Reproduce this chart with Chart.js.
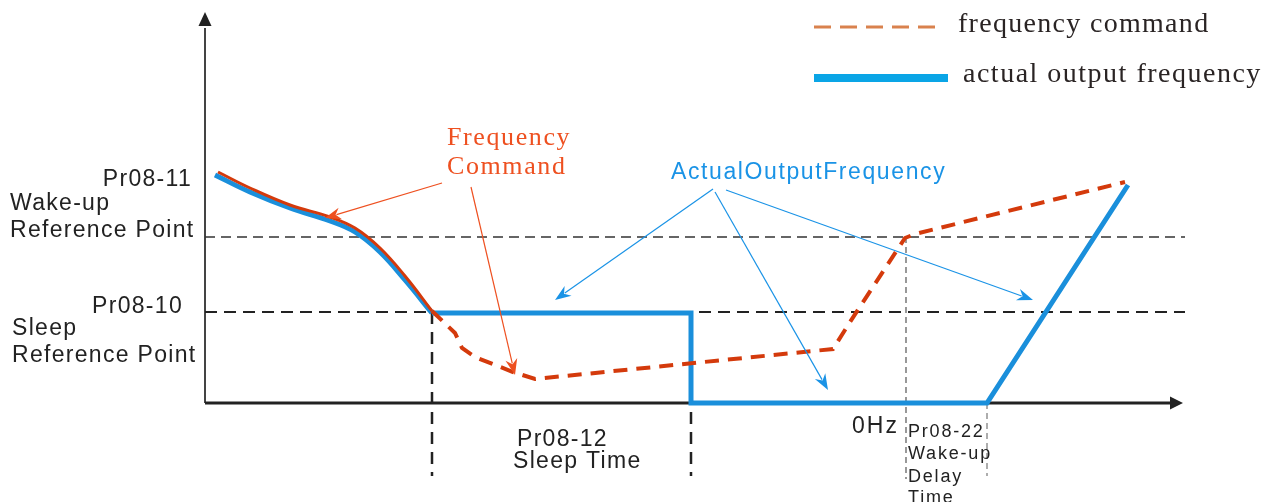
<!DOCTYPE html>
<html lang="en">
<head>
  <meta charset="UTF-8">
  <title>Sleep / Wake-up timing</title>
  <script src="https://cdn.jsdelivr.net/npm/chart.js"></script>
  <style>
    body { margin: 0; background: #fff; }
    .wrap { position: relative; width: 1279px; height: 502px; }
  </style>
</head>
<body>
<div class="wrap"><canvas id="sleepChart"></canvas></div>
<script>
// time (x) and frequency (y) values, arbitrary units
// frequency command: smooth decel curve, then the dashed part after sleep
const cmdCurveTime = [1.3, 4.5, 8.5, 12.5, 15, 17.5, 20, 22.7];
const cmdCurveFreq = [23.1, 21.5, 19.8, 18.6, 17.5, 15.5, 12.7, 9.2];
const cmdTime = [22.7, 25, 25.7, 27, 30.8, 33, 62.8, 64.5, 70, 71, 92];
const cmdFreq = [9.2, 7, 5.5, 4.6, 3.1, 2.4, 5.4, 8.1, 16.5, 16.9, 22.1];

// actual output: same curve, then sleep step and wake-up ramp
const outCurveTime = [1, 4.5, 8.5, 12.5, 15, 17.5, 20, 22.7];
const outCurveFreq = [22.8, 21.1, 19.5, 18.2, 17.1, 15.1, 12.3, 9.0];
const outTime = [22.7, 48.6, 48.6, 78.2, 92.3];
const outFreq = [9.0, 9.0, 0, 0, 21.8];

const wakeLevel = 16.6;
const sleepLevel = 9.1;
const sleepStart = 22.7;
const sleepEnd = 48.6;
const wakeDelayStart = 70.1;
const wakeDelayEnd = 78.2;
const timeEnd = 98;
const freqTop = 38.5;
const belowAxis = -7.3;

const pts = (xs, ys) => xs.map((x, i) => ({ x, y: ys[i] }));

const RED = '#d43a0c';
const BLUE = '#1a8fdb';
const INK = '#222';

// text labels: [text, x, y, font, color, align, spacing]
const sans = '23px "Liberation Sans", Arial, sans-serif';
const sansSmall = '18px "Liberation Sans", Arial, sans-serif';
const serif = '"Liberation Serif", "Times New Roman", serif';
const labels = [
  ['Pr08-11', -1.3, 21.7, sans, INK, 'right', 1.3],
  ['Wake-up', -19.5, 19.3, sans, INK, 'left', 1.3],
  ['Reference Point', -19.5, 16.6, sans, INK, 'left', 1.3],
  ['Pr08-10', -2.2, 9.0, sans, INK, 'right', 1.3],
  ['Sleep', -19.3, 6.8, sans, INK, 'left', 1.3],
  ['Reference Point', -19.3, 4.1, sans, INK, 'left', 1.3],
  ['Pr08-12', 31.2, -4.3, sans, INK, 'left', 1.3],
  ['Sleep Time', 30.8, -6.5, sans, INK, 'left', 1.3],
  ['0Hz', 64.7, -3.0, sans, INK, 'left', 2],
  ['Pr08-22', 70.3, -3.4, sansSmall, INK, 'left', 1.8],
  ['Wake-up', 70.3, -5.6, sansSmall, INK, 'left', 1.8],
  ['Delay', 70.3, -7.9, sansSmall, INK, 'left', 1.8],
  ['Time', 70.3, -10.0, sansSmall, INK, 'left', 1.8],
  ['Frequency', 24.2, 25.8, '26px ' + serif, '#ee5020', 'left', 1.6],
  ['Command', 24.2, 22.9, '26px ' + serif, '#ee5020', 'left', 1.6],
  ['ActualOutputFrequency', 46.6, 22.4, sans, '#1a93e6', 'left', 1.6],
  ['frequency command', 75.3, 37.1, '28px ' + serif, '#2a2424', 'left', 1.3],
  ['actual output frequency', 75.8, 32.1, '28px ' + serif, '#2a2424', 'left', 1.5]
];

// callout arrows: [fromX, fromY, tipX, tipY, color]
const callouts = [
  [23.7, 22.0, 12.0, 18.5, '#ee5020'],
  [26.6, 21.6, 31.0, 2.8, '#ee5020'],
  [50.8, 21.4, 35.0, 10.3, '#1a93e6'],
  [51.0, 21.1, 62.3, 1.3, '#1a93e6'],
  [52.1, 21.3, 82.8, 10.3, '#1a93e6']
];

const annotate = {
  id: 'annotate',
  beforeDatasetsDraw(chart) {
    const { ctx, scales: { x, y } } = chart;
    ctx.save();
    // axes
    ctx.strokeStyle = '#444';
    ctx.lineWidth = 2;
    ctx.beginPath();
    ctx.moveTo(x.getPixelForValue(0), y.getPixelForValue(0));
    ctx.lineTo(x.getPixelForValue(0), y.getPixelForValue(freqTop - 1));
    ctx.stroke();
    ctx.strokeStyle = INK;
    ctx.lineWidth = 3;
    ctx.beginPath();
    ctx.moveTo(x.getPixelForValue(0), y.getPixelForValue(0));
    ctx.lineTo(x.getPixelForValue(timeEnd - 1.5), y.getPixelForValue(0));
    ctx.stroke();
    ctx.fillStyle = INK;
    const ax = x.getPixelForValue(0), ay = y.getPixelForValue(freqTop);
    ctx.beginPath();
    ctx.moveTo(ax, ay - 6);
    ctx.lineTo(ax - 6.5, ay + 8);
    ctx.lineTo(ax + 6.5, ay + 8);
    ctx.closePath();
    ctx.fill();
    const bx = x.getPixelForValue(timeEnd - 1.5), by = y.getPixelForValue(0);
    ctx.beginPath();
    ctx.moveTo(bx + 13, by);
    ctx.lineTo(bx, by - 6.5);
    ctx.lineTo(bx, by + 6.5);
    ctx.closePath();
    ctx.fill();
    ctx.restore();
  },
  afterDatasetsDraw(chart) {
    const { ctx, scales: { x, y } } = chart;
    ctx.save();
    callouts.forEach(([fx, fy, tx, ty, color]) => {
      const x0 = x.getPixelForValue(fx), y0 = y.getPixelForValue(fy);
      const x1 = x.getPixelForValue(tx), y1 = y.getPixelForValue(ty);
      const a = Math.atan2(y1 - y0, x1 - x0);
      ctx.strokeStyle = color;
      ctx.fillStyle = color;
      ctx.lineWidth = 1.2;
      ctx.beginPath();
      ctx.moveTo(x0, y0);
      ctx.lineTo(x1 - 12 * Math.cos(a), y1 - 12 * Math.sin(a));
      ctx.stroke();
      ctx.beginPath();
      ctx.moveTo(x1, y1);
      ctx.lineTo(x1 - 16 * Math.cos(a) + 6 * Math.sin(a), y1 - 16 * Math.sin(a) - 6 * Math.cos(a));
      ctx.lineTo(x1 - 11 * Math.cos(a), y1 - 11 * Math.sin(a));
      ctx.lineTo(x1 - 16 * Math.cos(a) - 6 * Math.sin(a), y1 - 16 * Math.sin(a) + 6 * Math.cos(a));
      ctx.closePath();
      ctx.fill();
    });
    // legend samples
    ctx.lineCap = 'butt';
    ctx.strokeStyle = '#d9824e';
    ctx.lineWidth = 3;
    ctx.setLineDash([17, 9]);
    ctx.beginPath();
    ctx.moveTo(x.getPixelForValue(60.9), y.getPixelForValue(37.6));
    ctx.lineTo(x.getPixelForValue(73.5), y.getPixelForValue(37.6));
    ctx.stroke();
    ctx.setLineDash([]);
    ctx.strokeStyle = '#0aa5e6';
    ctx.lineWidth = 8;
    ctx.beginPath();
    ctx.moveTo(x.getPixelForValue(60.9), y.getPixelForValue(32.5));
    ctx.lineTo(x.getPixelForValue(74.3), y.getPixelForValue(32.5));
    ctx.stroke();
    // texts
    ctx.textBaseline = 'alphabetic';
    labels.forEach(([text, tx, ty, font, color, align, sp]) => {
      ctx.font = font;
      ctx.fillStyle = color;
      ctx.letterSpacing = sp + 'px';
      let px = x.getPixelForValue(tx);
      if (align === 'right') px -= ctx.measureText(text).width;
      ctx.textAlign = 'left';
      ctx.fillText(text, px, y.getPixelForValue(ty));
    });
    ctx.restore();
  }
};

const refLine = (data, width, dash, color) => ({
  data, borderColor: color, borderWidth: width, borderDash: dash,
  pointRadius: 0, order: 3, borderCapStyle: 'butt'
});

new Chart(document.getElementById('sleepChart'), {
  type: 'line',
  data: {
    datasets: [
      {
        label: 'frequency command',
        data: pts(cmdCurveTime, cmdCurveFreq),
        borderColor: RED,
        borderWidth: 3,
        pointRadius: 0,
        tension: 0.4,
        order: 0
      },
      {
        label: 'frequency command (after sleep)',
        data: pts(cmdTime, cmdFreq),
        borderColor: RED,
        borderWidth: 4,
        borderDash: [14, 9],
        borderCapStyle: 'butt',
        pointRadius: 0,
        order: 0
      },
      {
        label: 'actual output frequency',
        data: pts(outCurveTime, outCurveFreq),
        borderColor: BLUE,
        borderWidth: 5,
        pointRadius: 0,
        tension: 0.4,
        order: 1
      },
      {
        label: 'actual output frequency (sleep / wake)',
        data: pts(outTime, outFreq),
        borderColor: BLUE,
        borderWidth: 5,
        pointRadius: 0,
        borderJoinStyle: 'miter',
        order: 1
      },
      refLine([{ x: 0, y: wakeLevel }, { x: timeEnd, y: wakeLevel }], 1.3, [10, 6], '#333'),
      refLine([{ x: 0, y: sleepLevel }, { x: timeEnd, y: sleepLevel }], 2, [12, 7], INK),
      refLine([{ x: sleepStart, y: sleepLevel }, { x: sleepStart, y: belowAxis }], 2.5, [12, 8], INK),
      refLine([{ x: sleepEnd, y: sleepLevel }, { x: sleepEnd, y: belowAxis }], 2.5, [12, 8], INK),
      refLine([{ x: wakeDelayStart, y: wakeLevel }, { x: wakeDelayStart, y: belowAxis - 0.3 }], 1.2, [6, 4], '#555'),
      refLine([{ x: wakeDelayEnd, y: 0 }, { x: wakeDelayEnd, y: belowAxis }], 1.2, [6, 4], '#777')
    ]
  },
  options: {
    responsive: true,
    maintainAspectRatio: false,
    animation: false,
    layout: { padding: 0 },
    plugins: { legend: { display: false }, tooltip: { enabled: false } },
    scales: {
      x: { type: 'linear', min: -20.5, max: 107.4, display: false },
      y: { type: 'linear', min: -9.9, max: 40.3, display: false }
    }
  },
  plugins: [annotate]
});
</script>
</body>
</html>
